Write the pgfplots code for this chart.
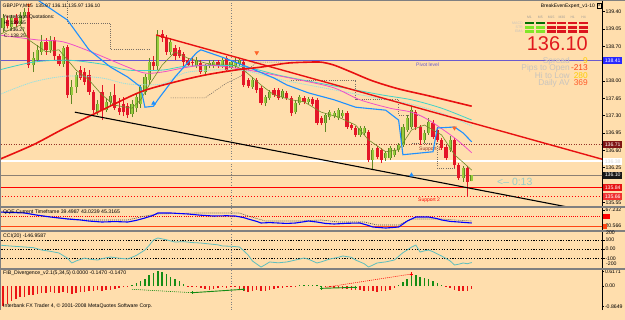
\documentclass[border=0pt]{standalone}
\usepackage{pgfplots}
\pgfplotsset{compat=1.18}
\usepackage{pgfplotstable}
\usepackage{fontspec}
\setmainfont{Liberation Sans}

\definecolor{chartbg}{RGB}{255,222,173}
\definecolor{sepgray}{RGB}{128,128,128}
\definecolor{bullbody}{RGB}{150,205,60}
\definecolor{bulledge}{RGB}{95,135,35}
\definecolor{bearbody}{RGB}{228,22,40}
\definecolor{pivotblue}{RGB}{106,90,205}
\definecolor{supbrown}{RGB}{150,50,40}
\definecolor{trendred}{RGB}{232,16,16}
\definecolor{maBlue}{RGB}{30,144,255}
\definecolor{maPink}{RGB}{240,80,200}
\definecolor{maCyan}{RGB}{64,210,200}
\definecolor{maPale}{RGB}{150,225,225}
\definecolor{maOlive}{RGB}{110,140,40}
\definecolor{stopgray}{RGB}{120,110,100}
\definecolor{fractalorange}{RGB}{255,100,40}
\definecolor{cciline}{RGB}{95,190,190}
\definecolor{histgreen}{RGB}{20,140,20}
\definecolor{histred}{RGB}{235,20,20}
\definecolor{infogray}{RGB}{200,196,190}
\definecolor{timercyan}{RGB}{150,205,200}
\definecolor{bigred}{RGB}{225,25,30}
\definecolor{goldval}{RGB}{255,205,0}
\definecolor{orval}{RGB}{255,70,20}
\definecolor{cellred}{RGB}{220,20,30}
\definecolor{celldark}{RGB}{0,110,0}
\definecolor{celllime}{RGB}{130,230,40}

\newcommand{\fs}[1]{\fontsize{#1}{#1}\selectfont}

% GBPJPY M15 bars: index, open, high, low, close
\pgfplotstableread{
i o h l c
0 139.07 139.35 138.99 139.27
2 139.09 139.33 139.03 139.27
4 139.15 139.39 139.11 139.31
5 139.31 139.47 139.27 139.39
7 138.32 138.59 138.18 138.46
8 138.42 138.73 138.38 138.63
9 138.59 138.93 138.53 138.79
11 138.63 138.91 138.57 138.83
14 138.34 138.71 138.28 138.67
16 137.72 138.02 137.53 137.88
17 137.88 138.18 137.76 138.12
22 137.37 137.62 137.31 137.53
24 137.41 137.66 137.37 137.58
25 137.58 137.78 137.49 137.70
30 137.33 137.62 137.27 137.53
31 137.45 137.74 137.37 137.68
32 137.53 137.92 137.45 137.88
33 137.78 138.14 137.72 138.08
34 138.02 138.46 137.94 138.38
36 138.30 139.03 138.22 138.91
39 138.59 138.87 138.53 138.79
45 138.30 138.48 138.26 138.42
47 138.18 138.34 138.12 138.30
48 138.30 138.42 138.26 138.36
49 138.30 138.42 138.26 138.38
51 138.30 138.46 138.26 138.42
53 138.26 138.42 138.24 138.38
54 138.30 138.46 138.26 138.38
55 138.34 138.46 138.30 138.42
58 137.88 138.08 137.84 138.02
61 137.55 137.72 137.49 137.68
62 137.66 137.82 137.62 137.78
65 137.68 137.84 137.64 137.80
68 137.37 137.62 137.33 137.55
69 137.55 137.72 137.51 137.68
71 137.58 137.68 137.53 137.64
75 137.15 137.35 136.97 137.31
76 137.27 137.41 137.21 137.37
77 137.29 137.39 137.25 137.35
78 137.25 137.45 137.21 137.41
79 137.29 137.41 137.25 137.35
83 136.91 137.09 136.87 137.05
84 136.95 137.09 136.91 137.05
86 136.40 136.65 136.20 136.61
89 136.44 136.59 136.38 136.55
90 136.44 136.69 136.40 136.65
91 136.51 136.65 136.47 136.61
92 136.61 136.75 136.57 136.71
93 136.71 137.13 136.67 137.07
94 137.01 137.31 136.97 137.25
95 137.07 137.47 137.03 137.41
98 136.81 137.01 136.75 136.95
99 136.95 137.25 136.91 137.17
104 136.61 136.89 136.57 136.81
107 136.04 136.28 135.96 136.24
109 135.97 136.11 135.97 136.10
}\bullbars

\pgfplotstableread{
i o h l c
1 139.23 139.31 139.07 139.11
3 139.27 139.35 139.09 139.15
6 139.39 139.47 138.26 138.32
10 138.79 138.87 138.53 138.63
12 138.83 138.89 138.42 138.50
13 138.50 138.55 138.30 138.34
15 138.69 138.73 137.66 137.72
18 138.22 138.30 138.02 138.06
19 138.18 138.26 137.92 137.98
20 138.12 138.22 137.72 137.78
21 137.78 137.82 137.35 137.41
23 137.78 137.92 137.21 137.41
26 137.72 137.94 137.41 137.45
27 137.45 137.66 137.31 137.37
28 137.53 137.68 137.29 137.37
29 137.49 137.55 137.25 137.31
35 138.38 138.50 138.22 138.30
37 138.95 139.03 138.79 138.87
38 138.87 138.93 138.53 138.59
40 138.67 138.73 138.42 138.50
41 138.63 138.69 138.46 138.50
42 138.55 138.59 138.30 138.38
43 138.42 138.46 138.30 138.32
44 138.38 138.46 138.30 138.36
46 138.36 138.42 138.14 138.18
50 138.38 138.42 138.26 138.30
52 138.46 138.50 138.18 138.22
56 138.38 138.42 137.88 137.92
57 138.02 138.06 137.86 137.90
59 138.02 138.06 137.76 137.82
60 137.86 137.90 137.51 137.55
63 137.82 137.86 137.68 137.72
64 137.82 137.86 137.62 137.66
66 137.76 137.80 137.62 137.66
67 137.66 137.70 137.29 137.35
70 137.66 137.70 137.53 137.58
72 137.64 137.68 137.49 137.53
73 137.62 137.66 137.11 137.15
74 137.25 137.29 137.11 137.15
80 137.35 137.39 137.03 137.07
81 137.11 137.15 137.01 137.05
82 137.05 137.09 136.87 136.91
85 136.97 137.01 136.36 136.40
87 136.65 136.69 136.42 136.47
88 136.61 136.65 136.34 136.40
96 137.37 137.41 137.01 137.07
97 137.07 137.11 136.71 136.81
100 137.15 137.21 136.83 136.87
101 137.01 137.07 136.77 136.81
102 136.81 136.85 136.61 136.65
103 136.67 136.71 136.40 136.44
105 136.81 136.85 136.24 136.30
106 136.30 136.34 136.00 136.04
108 136.24 136.28 135.66 135.96
}\bearbars

\begin{document}
\begin{tikzpicture}
\fill[chartbg] (0,0) rectangle (625bp,-320bp);
\path[use as bounding box] (0,0) rectangle (625bp,-320bp);

\pgfplotsset{
  mtpanel/.style={scale only axis, width=602bp, xmin=-0.7, xmax=139.3, anchor=north west,
    axis x line=none, axis y line*=right, axis line style={black, line width=0.6bp},
    tick align=outside, major tick length=2.5bp, tick style={black, line width=0.5bp},
    yticklabel style={font=\fs{5.2}, inner sep=0.8bp, text height=3.8bp, text depth=0bp}, clip=true},
  candle/.style={draw=none, mark=none, forget plot,
    error bars/.cd, y dir=plus, y explicit, error mark=none},
}
\tikzset{lbl/.style={inner sep=0, text height=3.7bp, text depth=0.6bp}}

% labels that sit under the bars
\begin{scope}[x=1bp,y=-1bp]
  \draw[sepgray, line width=0.6bp, dash pattern=on 1bp off 1.6bp] (230.9,0) -- (230.9,310);
  \node[lbl, anchor=west, font=\fs{5}, text=pivotblue] at (416,64.6) {Pivot level};
  \node[lbl, anchor=west, font=\fs{5}, text=supbrown] at (419,149.2) {Support 1};
  \node[lbl, anchor=west, font=\fs{5}, text=red] at (418,199.6) {Support 2};
  \node[anchor=west, font=\fs{10.5}, text=timercyan, inner sep=0] at (497,181.5) {<-- 0:13};
\end{scope}

% ---------------- price window ----------------
\begin{axis}[mtpanel, at={(0bp,0bp)}, height=206bp, ymin=135.474, ymax=139.636,
  ytick={135.55,135.90,136.25,136.60,136.95,137.30,137.65,138.00,138.35,138.70,139.05,139.40},
  yticklabels={135.55,,136.25,136.60,136.95,137.30,137.65,138.00,,138.70,139.05,139.40}]
  % pivot and support levels
  \addplot[pivotblue, line width=1bp] coordinates {(-1,138.41) (140,138.41)};
  \addplot[supbrown, line width=0.8bp, dash pattern=on 1bp off 1.5bp] coordinates {(-1,136.71) (140,136.71)};
  \addplot[white, line width=1.8bp] coordinates {(-1,136.38) (140,136.38)};
  \addplot[gray!80!brown, line width=0.7bp] coordinates {(-1,136.10) (140,136.10)};
  \addplot[red, line width=1.1bp] coordinates {(-1,135.84) (140,135.84)};
  \addplot[red, line width=0.8bp, dash pattern=on 1bp off 2bp] coordinates {(-1,135.66) (140,135.66)};
  % trailing stop steps
  \addplot[stopgray, line width=0.6bp, dash pattern=on 1bp off 1.2bp] coordinates {(15,139.70) (15,139.17) (25,139.17) (25,138.63) (34,138.63)};
  \addplot[stopgray, line width=0.6bp, dash pattern=on 1bp off 1.2bp] coordinates {(39,137.66) (47,137.66) (52,137.96) (55,138.08) (59,138.38) (65,138.38)};
  \addplot[stopgray, line width=0.6bp, dash pattern=on 1bp off 1.2bp] coordinates {(67,138.02) (82,138.02) (82,137.62) (92,137.62) (92,137.31) (97,137.31)};
  \addplot[stopgray, line width=0.6bp, dash pattern=on 1bp off 1.2bp] coordinates {(95,136.75) (101,136.75) (101,136.24) (105,136.24)};
  % candles
  \addplot[candle, error bar style={draw=bulledge, line width=0.7bp}]
    table[x=i, y=l, y error expr=\thisrow{h}-\thisrow{l}] {\bullbars};
  \addplot[candle, error bar style={draw=bulledge, line width=3.2bp}]
    table[x=i, y=o, y error expr={max(\thisrow{c}-\thisrow{o},0.02)}] {\bullbars};
  \addplot[candle, error bar style={draw=bullbody, line width=1.9bp}]
    table[x=i, y=o, y error expr={max(\thisrow{c}-\thisrow{o},0.02)}] {\bullbars};
  \addplot[candle, error bar style={draw=bearbody, line width=0.7bp}]
    table[x=i, y=l, y error expr=\thisrow{h}-\thisrow{l}] {\bearbars};
  \addplot[candle, error bar style={draw=bearbody, line width=3.2bp}]
    table[x=i, y=c, y error expr={max(\thisrow{o}-\thisrow{c},0.02)}] {\bearbars};
  % moving averages
  \addplot[maPale, line width=0.8bp, dash pattern=on 1.2bp off 0.8bp, smooth, tension=0.5] coordinates {
    (-1,137.72) (7,137.98) (15,138.10) (23,138.06) (29,137.94) (37,137.94) (43,138.18) (55,138.22)
    (65,138.02) (77,137.82) (88,137.64) (95,137.53) (102,137.35) (109,137.09)};
  \addplot[maCyan, line width=0.8bp, smooth, tension=0.5] coordinates {
    (-1,138.22) (7,138.38) (15,138.42) (23,138.34) (29,138.22) (37,138.22) (43,138.30) (55,138.30)
    (65,138.10) (77,137.90) (88,137.72) (95,137.62) (102,137.45) (109,137.21)};
  \addplot[maPink, line width=0.8bp, smooth, tension=0.5] coordinates {
    (-1,138.93) (8,138.83) (14,138.79) (21,138.57) (29,138.28) (33,138.16) (37,138.18) (43,138.28)
    (48,138.32) (57,138.22) (69,138.02) (77,137.86) (83,137.62) (90,137.45) (95,137.37) (99,137.21)
    (105,136.85) (109,136.55)};
  \addplot[maOlive, line width=0.6bp] coordinates {
    (-1,138.93) (4,139.13) (6,138.83) (10,138.59) (13,138.63) (17,138.22) (20,138.02) (23,137.72)
    (26,137.51) (30,137.45) (32,137.62) (34,137.92) (37,138.32) (40,138.59) (43,138.46) (48,138.34)
    (53,138.34) (56,138.22) (60,137.92) (63,137.72) (67,137.62) (70,137.58) (74,137.37) (78,137.27)
    (82,137.11) (85,136.81) (89,136.57) (92,136.61) (95,137.01) (98,137.11) (102,136.91) (105,136.51)
    (109,136.20)};
  \addplot[maBlue, line width=1.1bp] coordinates {
    (7,139.80) (8,139.64) (15,139.23) (20,138.63) (25,138.28) (29,138.08) (32,137.88) (33,137.47)
    (35,137.49) (36,137.62) (40,138.08) (45,138.57) (46,138.63) (51,138.48) (57,138.28) (63,138.06)
    (66,137.92) (71,137.76) (77,137.62) (82,137.47) (89,137.41) (92,137.21) (93,136.51) (100,136.57)
    (101,137.05) (105,137.07) (107,136.95) (109,136.77)};
  \addplot[trendred, line width=1.6bp, smooth, tension=0.5] coordinates {
    (-1,136.41) (7,136.71) (14,137.03) (23,137.41) (32,137.78) (40,137.98) (47,138.12) (54,138.22)
    (60,138.28) (66,138.36) (71,138.38) (74,138.38) (77,138.32) (81,138.18) (86,138.00) (92,137.84)
    (99,137.70) (109,137.49)};
  % trend lines
  \addplot[trendred, line width=1.4bp] coordinates {(35.6,138.93) (139.3,136.42)};
  \addplot[black, line width=1.1bp] coordinates {(16.7,137.37) (139.3,135.32)};
  % fractal arrows
  \addplot[only marks, mark=triangle*, mark size=2.2bp, color=fractalorange, mark options={rotate=180}]
    coordinates {(6,139.53) (59,138.57) (105,137.05)};
  \addplot[only marks, mark=triangle*, mark size=2.2bp, color=maBlue]
    coordinates {(35,137.55) (95,136.10)};
\end{axis}

% ---------------- QQE window ----------------
\begin{axis}[mtpanel, at={(0bp,-208bp)}, height=22bp, ymin=8.9, ymax=73.07,
  ytick={20.566,67.232}, yticklabels={20.566,67.232}]
  \addplot[red, line width=0.7bp, dash pattern=on 1bp off 1.2bp] coordinates {(-1,50) (140,50)};
  \addplot[orval, line width=1.2bp] coordinates {(-1,20) (140,20)};
  \addplot[black!70, line width=0.6bp, dash pattern=on 1bp off 1bp] coordinates {
    (-1,61.4) (4,61.4) (8,52.6) (13,43.9) (19,38.1) (29,38.1) (33,49.7) (36,55.6) (45,58.5) (55,58.5)
    (57,49.7) (61,35.1) (69,35.1) (74,38.1) (78,32.2) (84,32.2) (87,23.5) (92,23.5) (95,41.0)
    (102,41.0) (105,38.1) (109,35.1)};
  \addplot[blue, line width=1.1bp] coordinates {
    (-1,61.4) (2,60.0) (5,58.5) (8,52.0) (11,46.8) (13,44.0) (15,41.0) (18,38.1) (20,35.0) (23,32.2)
    (26,33.5) (29,32.2) (31,37.0) (33,43.9) (35,52.0) (36,58.5) (39,58.5) (41,57.0) (43,55.6) (46,52.0)
    (49,49.7) (52,50.5) (54,49.7) (56,45.0) (57,41.0) (59,34.0) (60,29.3) (62,30.5) (64,29.3) (66,28.0)
    (68,29.3) (70,33.0) (71,35.1) (73,32.2) (75,28.0) (77,26.4) (80,28.5) (83,29.3) (85,22.0) (86,17.6)
    (89,14.7) (92,17.6) (93,26.0) (94,35.1) (96,46.8) (99,46.8) (101,42.0) (102,38.1) (104,34.0)
    (106,32.2) (109,29.3)};
\end{axis}

% ---------------- CCI window ----------------
\begin{axis}[mtpanel, at={(0bp,-232bp)}, height=36bp, ymin=-206.5, ymax=184.8,
  ytick={-100,0,100}, yticklabels={-100,0.00,100}]
  \addplot[black, line width=0.5bp, dash pattern=on 1.2bp off 1.5bp] coordinates {(-1,100) (140,100)};
  \addplot[black, line width=0.5bp, dash pattern=on 1.2bp off 1.5bp] coordinates {(-1,0) (140,0)};
  \addplot[black, line width=0.5bp, dash pattern=on 1.2bp off 1.5bp] coordinates {(-1,-100) (140,-100)};
  \addplot[cciline, line width=0.8bp] coordinates {
    (-1,43) (1,35) (3,28) (5,22) (7,15) (9,-11) (11,-25) (13,-43) (15,-100) (16,-152) (17,-130)
    (19,-98) (20,-110) (22,-120) (23,-105) (25,-87) (27,-100) (29,-109) (31,-70) (33,-11) (34,40)
    (35,98) (36,120) (37,110) (38,100) (40,76) (42,80) (44,70) (46,65) (48,55) (50,45) (51,33)
    (53,30) (55,22) (56,-20) (57,-65) (58,-130) (60,-196) (61,-170) (62,-141) (64,-150) (66,-141)
    (68,-120) (70,-98) (71,-110) (73,-152) (74,-140) (76,-109) (78,-90) (79,-76) (81,-90) (82,-120)
    (84,-160) (85,-196) (86,-175) (87,-152) (89,-140) (91,-120) (92,-80) (93,-40) (94,-11) (95,20)
    (96,43) (97,-33) (98,-20) (99,-11) (100,-30) (102,-76) (104,-130) (105,-174) (106,-165)
    (107,-152) (108,-160) (109,-146.96)};
\end{axis}

% ---------------- FIB divergence window ----------------
\begin{axis}[mtpanel, at={(0bp,-270bp)}, height=40bp, ymin=-1.02, ymax=0.68,
  axis x line*=bottom, major tick length=2bp,
  ytick={-0.8649,0,0.6171}, yticklabels={-0.8649,0.00,0.6171},
  xtick={0,8,...,104},
  xticklabels={8 Dec 2008,8 Dec 12:45,8 Dec 14:45,8 Dec 16:45,8 Dec 18:45,8 Dec 20:45,8 Dec 22:45,
    9 Dec 00:45,9 Dec 02:45,9 Dec 04:45,9 Dec 06:45,9 Dec 08:45,9 Dec 10:45,9 Dec 12:45},
  xticklabel style={font=\fs{5.2}, anchor=north west, inner sep=0.5bp, xshift=-0.5bp}]
  \addplot[ycomb, histred, line width=1.5bp, mark=none] coordinates {
    (0,-0.8649) (1,-0.75) (2,-0.62) (3,-0.55) (4,-0.48) (5,-0.45) (6,-0.40) (7,-0.38) (8,-0.35)
    (9,-0.30) (10,-0.28) (11,-0.27) (12,-0.30) (13,-0.28) (14,-0.25) (15,-0.30) (16,-0.33) (17,-0.30)
    (18,-0.27) (19,-0.25) (20,-0.22) (21,-0.20) (22,-0.18) (23,-0.20) (24,-0.17) (25,-0.15) (26,-0.12)
    (27,-0.10) (28,-0.06) (29,-0.03)
    (43,-0.03) (44,-0.05) (45,-0.04) (46,-0.08) (47,-0.12) (48,-0.15) (49,-0.12) (50,-0.08) (51,-0.05)
    (52,-0.10) (53,-0.05) (54,-0.04) (55,-0.12) (56,-0.20) (57,-0.25) (58,-0.22) (59,-0.18) (60,-0.22)
    (61,-0.20) (62,-0.17) (63,-0.14) (64,-0.10) (65,-0.08) (66,-0.06) (67,-0.04) (68,-0.03)
    (75,-0.04) (76,-0.06) (77,-0.08) (78,-0.10) (79,-0.12) (80,-0.13) (81,-0.15) (82,-0.17) (83,-0.19)
    (84,-0.20) (85,-0.22) (86,-0.23) (87,-0.24) (88,-0.22) (89,-0.20) (90,-0.18) (91,-0.10)
    (103,-0.05) (104,-0.10) (105,-0.15) (106,-0.20) (107,-0.22) (108,-0.20) (109,-0.147)};
  \addplot[ycomb, histgreen, line width=1.5bp, mark=none] coordinates {
    (30,0.05) (31,0.12) (32,0.20) (33,0.30) (34,0.45) (35,0.55) (36,0.6171) (37,0.58) (38,0.50)
    (39,0.40) (40,0.30) (41,0.20) (42,0.10)
    (69,0.03) (70,0.05) (71,0.06) (72,0.05) (73,0.04) (74,0.02)
    (92,0.05) (93,0.15) (94,0.30) (95,0.42) (96,0.47) (97,0.40) (98,0.35) (99,0.30) (100,0.22)
    (101,0.12) (102,0.05)};
  % divergence lines
  \addplot[histgreen, line width=0.6bp, dash pattern=on 1bp off 1bp] coordinates {(30,-0.14) (44,-0.285)};
  \addplot[histgreen, line width=0.9bp, mark=+, mark size=1.6bp] coordinates {(44,-0.285) (56,-0.14)};
  \addplot[histgreen, line width=0.9bp, mark=+, mark size=1.6bp] coordinates {(74,-0.10) (82,-0.055)};
  \addplot[red, line width=0.6bp, dash pattern=on 1bp off 1bp] coordinates {(75,-0.055) (95,0.51)};
  \addplot[only marks, red, mark=+, mark size=1.8bp] coordinates {(95,0.51)};
\end{axis}

% ---------------- frame, tags and labels ----------------
\begin{scope}[x=1bp,y=-1bp]
  \fill[sepgray] (0,206) rectangle (625,208);
  \fill[sepgray] (0,230) rectangle (625,232);
  \fill[sepgray] (0,268) rectangle (625,270);
  \draw[sepgray, line width=1bp] (0.5,0) -- (0.5,310);
  \draw[sepgray, line width=0.8bp] (0,0.4) -- (625,0.4);

  \tikzset{tag/.style={anchor=west, inner sep=0, minimum width=19bp, minimum height=7bp,
      font=\fs{5.2}, text=white, text height=3.7bp, text depth=0bp}}
  \node[tag, fill={rgb,255:red,40;green,40;blue,255}] at (603,60.7) {138.41};
  \node[tag, fill={rgb,255:red,128;green,20;blue,20}] at (603,144.8) {136.71};
  \node[tag, fill=white, text=black!15] at (603,161.2) {136.38};
  \node[tag, fill=black!90] at (603,175.0) {136.10};
  \node[tag, fill={rgb,255:red,230;green,20;blue,20}] at (603,187.9) {135.84};
  \node[tag, fill={rgb,255:red,240;green,50;blue,50}] at (603,196.8) {135.66};
  \fill[red] (603,213.6) rectangle (610,218.6);
  \fill[orval] (603,224) rectangle (606.5,229);
  \node[lbl, anchor=west, font=\fs{5.2}] at (606,233.4) {200};
  \node[lbl, anchor=west, font=\fs{5.2}] at (606,264.2) {-200};

  % window titles
  \node[lbl, anchor=west, font=\fs{5}] at (2.5,5.6) {GBPJPY,M15\ \ 135.97 136.11 135.97 136.10};
  \node[lbl, anchor=west, font=\fs{5}] at (3,17.2) {Yesterdays Quotations:};
  \node[lbl, anchor=west, font=\fs{5}] at (4,23.4) {H: 139.65};
  \node[lbl, anchor=west, font=\fs{5}] at (4,29.5) {L: 136.27};
  \node[lbl, anchor=west, font=\fs{5}] at (4,35.8) {C: 138.25};
  \node[lbl, anchor=west, font=\fs{5.2}] at (3,211.5) {QQE Current Timeframe 39.4987 43.0239 45.3165};
  \node[lbl, anchor=west, font=\fs{5.2}] at (3,236.2) {CCI(20) -146.9587};
  \node[lbl, anchor=west, font=\fs{5.2}] at (3,272.8) {FIB\_Divergence\_v2.1(5,34,5) 0.0000 -0.1470 -0.1470};
  \node[lbl, anchor=west, font=\fs{5.2}] at (3,305.5) {Interbank FX Trader 4, © 2001-2008 MetaQuotes Software Corp.};

  % expert panel
  \node[lbl, anchor=east, font=\fs{5}] at (595,5.8) {BreakEvenExpert\_v1-10};
  \draw[black, line width=0.3bp] (597,3.6) rectangle (601.5,8);
  \node[font=\fs{4}, inner sep=0] at (599.25,5.7) {x};
  \foreach \lab [count=\k from 0] in {M1,M5,M15,M30,H1,H4}
    \node[font=\fs{3.4}, text=infogray!80!black, inner sep=0] at ({529.5+10.8*\k},17.2) {\lab};
  \node[anchor=east, font=\fs{3.6}, text=infogray, inner sep=0, text height=2.6bp, text depth=0bp] at (523,23) {MACD};
  \node[anchor=east, font=\fs{3.6}, text=infogray, inner sep=0, text height=2.6bp, text depth=0bp] at (523,27.3) {STR};
  \node[anchor=east, font=\fs{3.6}, text=infogray, inner sep=0, text height=2.6bp, text depth=0bp] at (523,31.6) {EMA};
  \foreach \k in {2,...,5}
    \foreach \yy in {21.5,25.8,30.1}
      \fill[cellred] ({525+10.8*\k},\yy) rectangle ++(9,2.8);
  \foreach \k in {0,1} {
    \fill[celldark] ({525+10.8*\k},21.5) rectangle ++(9,2.8);
    \fill[celllime] ({525+10.8*\k},25.8) rectangle ++(9,2.8);
    \fill[celllime] ({525+10.8*\k},30.1) rectangle ++(9,2.8);
  }
  \node[anchor=east, font=\fs{20}, text=bigred, inner sep=0] at (588,43.5) {136.10};
  \tikzset{info/.style={anchor=east, font=\fs{8.4}, inner sep=0, text height=6.1bp, text depth=0.9bp}}
  \node[info, text=infogray] at (570,60.8) {Spread};
  \node[info, text=goldval] at (588,60.8) {9};
  \node[info, text=infogray] at (570,68.3) {Pips to Open};
  \node[info, text=orval] at (588,68.3) {-213};
  \node[info, text=infogray] at (570,75.8) {Hi to Low};
  \node[info, text=goldval] at (588,75.8) {280};
  \node[info, text=infogray] at (570,83.3) {Daily AV};
  \node[info, text={rgb,255:red,255;green,90;blue,40}] at (588,83.3) {369};
\end{scope}
\end{tikzpicture}
\end{document}
